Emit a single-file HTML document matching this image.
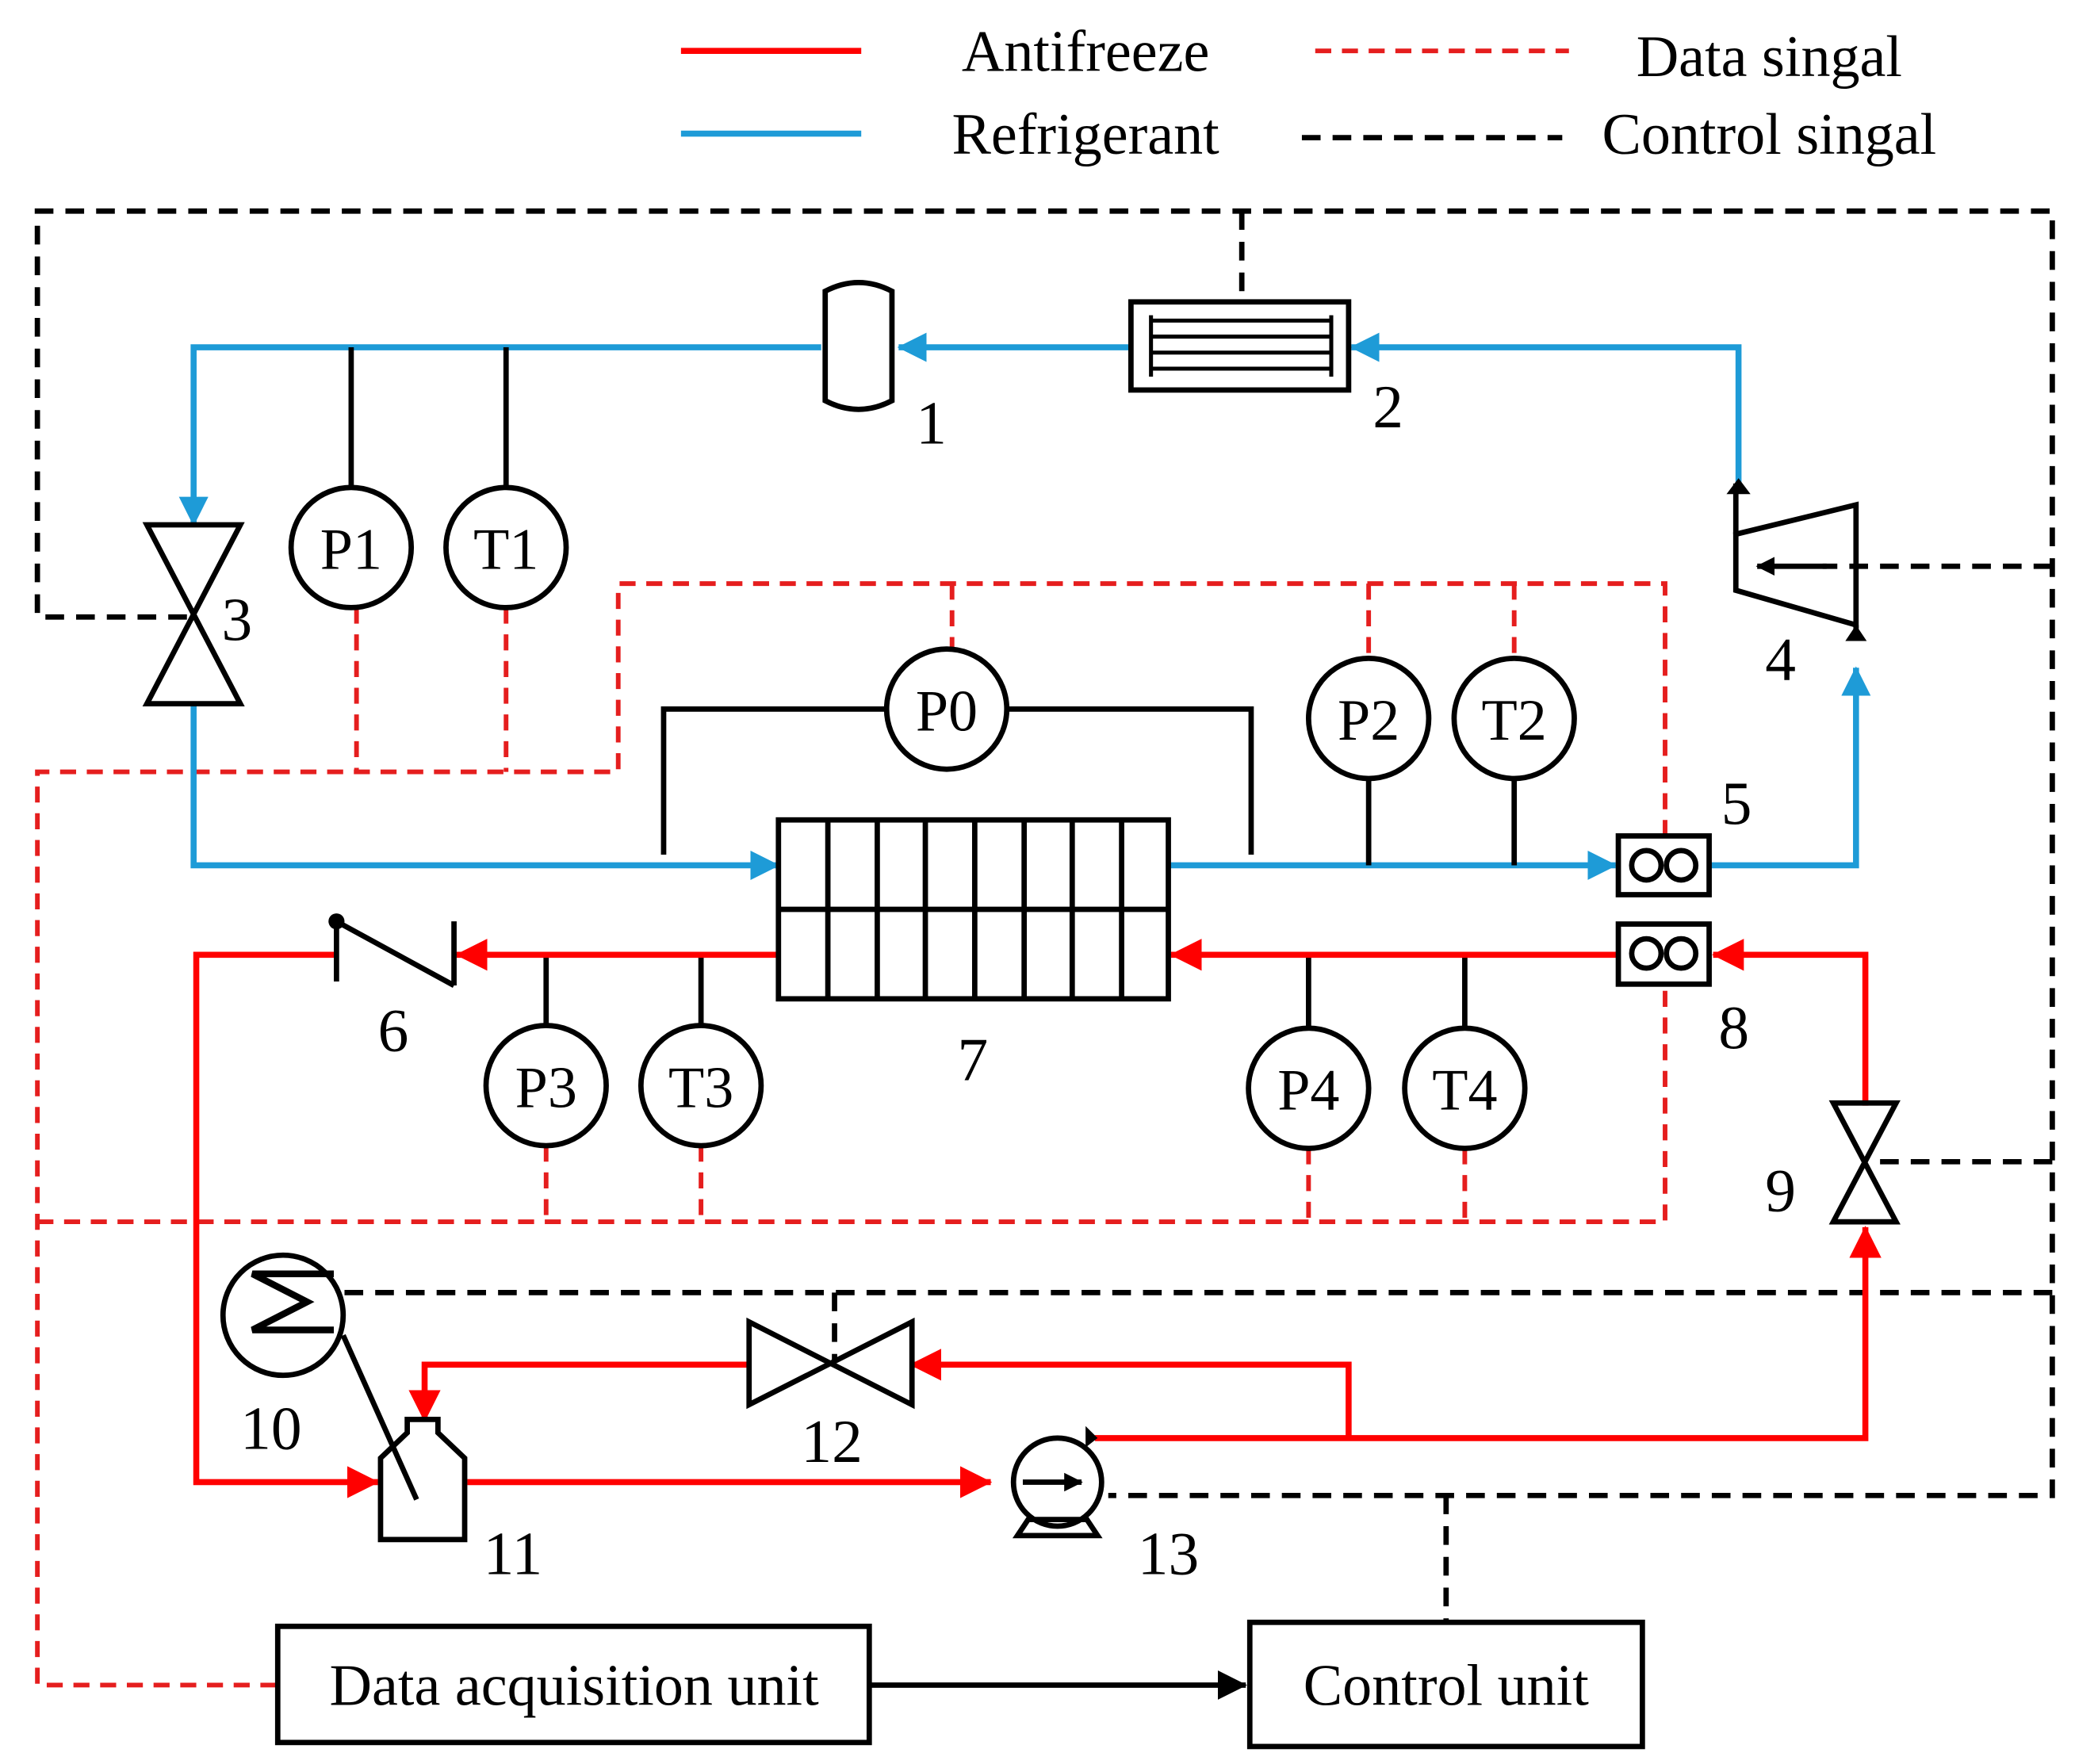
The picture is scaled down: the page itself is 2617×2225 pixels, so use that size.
<!DOCTYPE html>
<html><head><meta charset="utf-8"><style>html,body{margin:0;padding:0;background:#fff}svg{display:block}</style></head><body>
<svg width="2617" height="2225" viewBox="0 0 1554 1321" xmlns="http://www.w3.org/2000/svg" font-family="Liberation Serif, serif">
<defs>
<marker id="ab" markerWidth="22" markerHeight="22" refX="21" refY="11" orient="auto" markerUnits="userSpaceOnUse" viewBox="0 0 22 22"><path d="M0,0 L22,11 L0,22z" fill="#1e9bd7"/></marker>
<marker id="ar" markerWidth="24" markerHeight="24" refX="23" refY="12" orient="auto" markerUnits="userSpaceOnUse" viewBox="0 0 24 24"><path d="M0,0 L24,12 L0,24z" fill="#ff0000"/></marker>
<marker id="ak" markerWidth="22" markerHeight="22" refX="21" refY="11" orient="auto" markerUnits="userSpaceOnUse" viewBox="0 0 22 22"><path d="M0,0 L22,11 L0,22z" fill="#000"/></marker>
<marker id="aks" markerWidth="14" markerHeight="14" refX="13" refY="7" orient="auto" markerUnits="userSpaceOnUse" viewBox="0 0 14 14"><path d="M0,0 L14,7 L0,14z" fill="#000"/></marker>
</defs>
<style>
.b{stroke:#1e9bd7;stroke-width:4.5;fill:none}
.r{stroke:#ff0000;stroke-width:4.5;fill:none}
.k{stroke:#000;stroke-width:4;fill:none}
.kd{stroke:#000;stroke-width:4;fill:none;stroke-dasharray:14,9}
.rd{stroke:#e51e1e;stroke-width:3.5;fill:none;stroke-dasharray:12,8}
text{font-size:44px;fill:#000}
.n{font-size:46px}
</style>
<!-- legend -->
<line x1="510" y1="38" x2="645" y2="38" class="r"/>
<text x="813" y="53" text-anchor="middle">Antifreeze</text>
<line x1="985" y1="38" x2="1175" y2="38" class="rd"/>
<text x="1325" y="57" text-anchor="middle">Data singal</text>
<line x1="510" y1="100" x2="645" y2="100" class="b"/>
<text x="813" y="115" text-anchor="middle">Refrigerant</text>
<line x1="975" y1="103" x2="1170" y2="103" class="kd"/>
<text x="1325" y="115" text-anchor="middle">Control singal</text>

<!-- control dashed -->
<path d="M140,462 H28 V158 H1537 V1120 H830" class="kd"/>
<path d="M930,158 V218" class="kd"/>
<path d="M1537,424 H1365" class="kd"/>
<path d="M1537,870 H1405" class="kd"/>
<path d="M1537,968 H250" class="kd"/>
<path d="M625,968 V1020" class="kd"/>
<path d="M1083,1120 V1215" class="kd"/>

<!-- data dashed -->
<path d="M713,437 V487" class="rd"/>
<path d="M1247,626 V437 H463 V578 H28 V1262 H208" class="rd"/>
<path d="M267,455 V578 M379,455 V578 M1025,437 V493 M1134,437 V493" class="rd"/>
<path d="M28,915 H1247 V737" class="rd"/>
<path d="M409,858 V915 M525,858 V915 M980,860 V915 M1097,860 V915" class="rd"/>

<!-- refrigerant -->
<path d="M615,260 H145 V393" class="b" marker-end="url(#ab)"/>
<path d="M845,260 H673" class="b" marker-end="url(#ab)"/>
<path d="M1302,362 V260 H1012" class="b" marker-end="url(#ab)"/>
<path d="M1280,648 H1390 V500" class="b" marker-end="url(#ab)"/>
<path d="M145,527 V648 H583" class="b" marker-end="url(#ab)"/>
<path d="M875,648 H1210" class="b" marker-end="url(#ab)"/>

<!-- sensor black lines -->
<path d="M263,260 V365 M379,260 V365 M1025,648 V583 M1134,648 V583 M409,715 V768 M525,715 V768 M980,715 V770 M1097,715 V770" class="k"/>
<path d="M497,640 V531 H664 M754,531 H937 V640" class="k"/>

<!-- antifreeze -->
<path d="M1212,715 H877" class="r" marker-end="url(#ar)"/>
<path d="M583,715 H342" class="r" marker-end="url(#ar)"/>
<path d="M252,715 H147 V1110 H283" class="r" marker-end="url(#ar)"/>
<path d="M1397,828 V715 H1283" class="r" marker-end="url(#ar)"/>
<path d="M820,1077 H1397 V919" class="r" marker-end="url(#ar)"/>
<path d="M1010,1077 V1022 H682" class="r" marker-end="url(#ar)"/>
<path d="M560,1022 H318 V1064" class="r" marker-end="url(#ar)"/>
<path d="M350,1110 H742" class="r" marker-end="url(#ar)"/>

<!-- receiver 1 -->
<path d="M618,218 Q643,205 668,218 V300 Q643,313 618,300 Z" class="k" fill="#fff"/>
<!-- condenser 2 -->
<rect x="847" y="226" width="163" height="66" class="k" fill="#fff"/>
<path d="M862,240 H997 M862,252 H997 M862,264 H997 M862,276 H997 M862,236 V282 M997,236 V282" stroke="#000" stroke-width="3"/>
<!-- valve 3 -->
<path d="M110,393 H180 L110,527 H180 Z" class="k" fill="#fff"/>
<!-- compressor 4 -->
<path d="M1300,400 L1390,378 V468 L1300,442 Z" class="k" fill="#fff"/>
<path d="M1300,400 V362 M1390,468 V480" class="k"/>
<path d="M1293,370 L1302,358 L1311,370Z M1382,480 L1390,468 L1398,480Z" fill="#000"/>
<path d="M1368,424 H1316" class="k" marker-end="url(#aks)"/>
<!-- HX 7 -->
<rect x="583" y="614" width="292" height="134" class="k" fill="#fff"/>
<path d="M583,681 H875 M620,614 V748 M657,614 V748 M693,614 V748 M730,614 V748 M767,614 V748 M803,614 V748 M840,614 V748" class="k"/>
<!-- boxes 5,8 -->
<rect x="1212" y="626" width="68" height="44" class="k" fill="#fff"/>
<circle cx="1233" cy="648" r="11" class="k"/><circle cx="1259" cy="648" r="11" class="k"/>
<rect x="1212" y="692" width="68" height="45" class="k" fill="#fff"/>
<circle cx="1233" cy="714" r="11" class="k"/><circle cx="1259" cy="714" r="11" class="k"/>
<!-- check valve 6 -->
<path d="M252,690 V735 M252,690 L340,738 M340,690 V738" class="k"/>
<circle cx="252" cy="690" r="6" fill="#000"/>
<!-- valve 9 -->
<path d="M1373,826 H1420 L1373,915 H1420 Z" class="k" fill="#fff"/>
<!-- valve 12 -->
<path d="M561,990 V1052 L683,990 V1052 Z" class="k" fill="#fff"/>
<!-- fan 10 -->
<circle cx="212" cy="985" r="45" class="k" fill="#fff"/>
<path d="M250,954 H189 L230,975 L189,996 H250" stroke="#000" stroke-width="5" fill="none"/>
<path d="M257,1000 L312,1123" class="k"/>
<!-- tank 11 -->
<path d="M285,1153 H348 V1092 L328,1073 V1063 H305 V1073 L285,1092 Z" class="k" fill="none"/>
<!-- pump 13 -->
<path d="M762,1150 L770,1138 H814 L822,1150 Z" class="k" fill="#fff"/>
<circle cx="792" cy="1110" r="33" class="k" fill="#fff"/>
<path d="M766,1110 H810" class="k" marker-end="url(#aks)"/>
<path d="M813,1068 L822,1077 L813,1084 Z" fill="#000"/>
<!-- sensors -->
<g class="k" fill="#fff">
<circle cx="263" cy="410" r="45"/><circle cx="379" cy="410" r="45"/>
<circle cx="709" cy="531" r="45"/><circle cx="1025" cy="538" r="45"/><circle cx="1134" cy="538" r="45"/>
<circle cx="409" cy="813" r="45"/><circle cx="525" cy="813" r="45"/>
<circle cx="980" cy="815" r="45"/><circle cx="1097" cy="815" r="45"/>
</g>
<g text-anchor="middle">
<text x="263" y="426">P1</text><text x="379" y="426">T1</text>
<text x="709" y="547">P0</text><text x="1025" y="554">P2</text><text x="1134" y="554">T2</text>
<text x="409" y="829">P3</text><text x="525" y="829">T3</text>
<text x="980" y="831">P4</text><text x="1097" y="831">T4</text>
</g>
<g class="n">
<text x="686" y="332" class="n">1</text><text x="1028" y="320" class="n">2</text>
<text x="166" y="479" class="n">3</text><text x="1322" y="509" class="n">4</text>
<text x="1289" y="617" class="n">5</text><text x="283" y="787" class="n">6</text>
<text x="717" y="809" class="n">7</text><text x="1287" y="785" class="n">8</text>
<text x="1322" y="907" class="n">9</text><text x="180" y="1085" class="n">10</text>
<text x="362" y="1179" class="n">11</text><text x="600" y="1095" class="n">12</text>
<text x="852" y="1179" class="n">13</text>
</g>
<!-- units -->
<rect x="208" y="1218" width="443" height="87" class="k" fill="#fff"/>
<text x="430" y="1277" text-anchor="middle">Data acquisition unit</text>
<rect x="936" y="1215" width="294" height="93" class="k" fill="#fff"/>
<text x="1083" y="1277" text-anchor="middle">Control unit</text>
<path d="M651,1262 H933" class="k" marker-end="url(#ak)"/>
</svg>
</body></html>
